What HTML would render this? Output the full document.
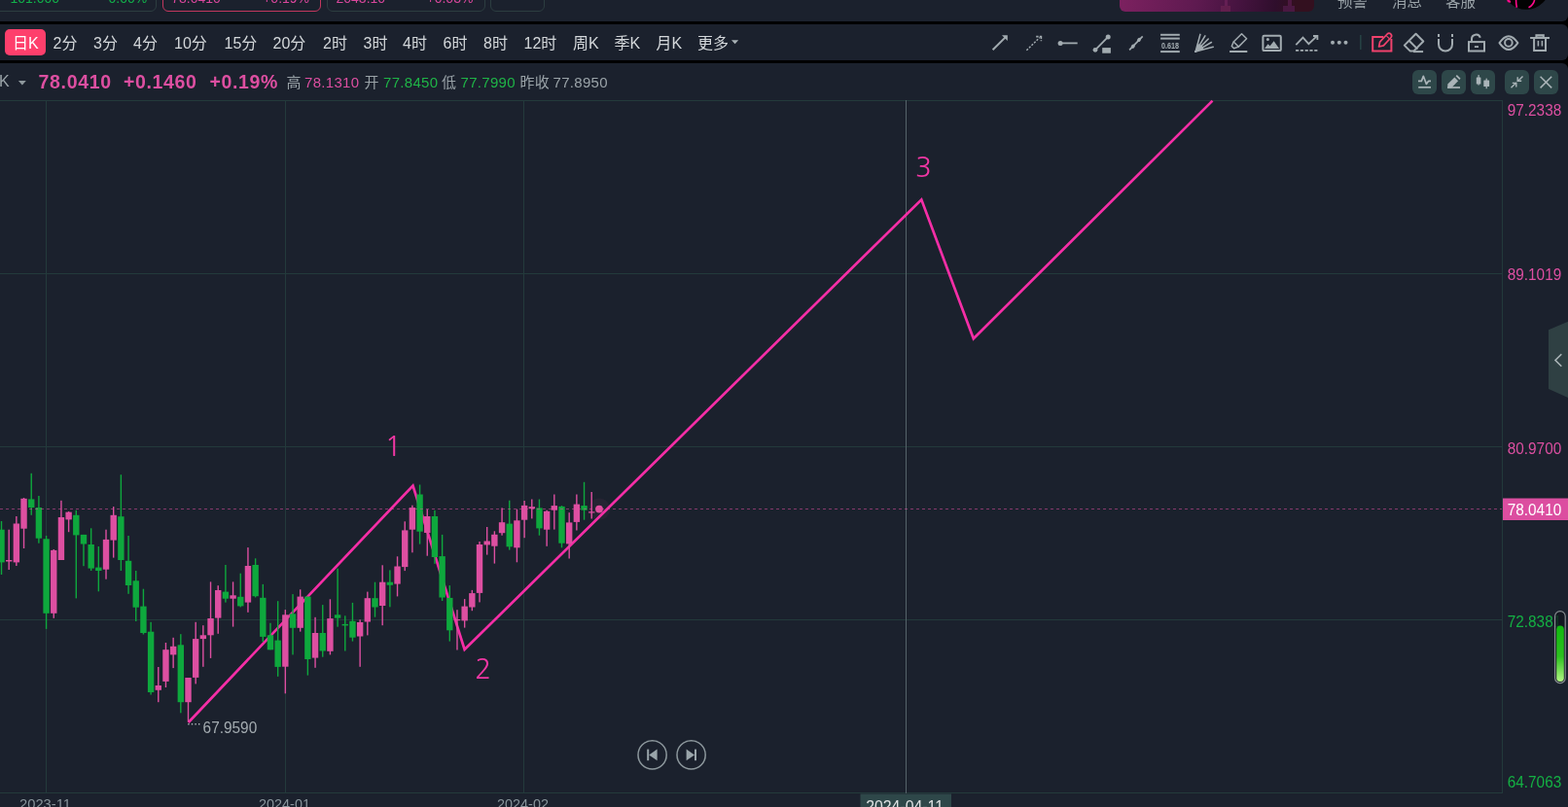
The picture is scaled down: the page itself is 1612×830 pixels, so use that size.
<!DOCTYPE html>
<html><head><meta charset="utf-8">
<style>
*{margin:0;padding:0;box-sizing:border-box}
html,body{width:1612px;height:830px;overflow:hidden;background:#000}
body{position:relative;font-family:"Liberation Sans","Noto Sans CJK SC",sans-serif;color:#9ba3a8}
.abs{position:absolute}
#hdr{left:0;top:0;width:1612px;height:22px;background:#1b212d;overflow:hidden;border-radius:0 0 6px 0}
#tb{left:0;top:25px;width:1612px;height:37px;background:#1b212d;border-radius:0 6px 6px 0}
#info{left:0;top:65px;width:1612px;height:765px;background:#1b212d;border-radius:0 6px 0 0}
.card{position:absolute;top:-12px;height:24px;border:1px solid #2c3d40;border-radius:6px}
.card span{position:absolute;top:1.5px;font-size:14px;line-height:15px}
.hd{position:absolute;top:-7.5px;font-size:15.5px;color:#9aa3a8;line-height:17px;font-family:"Liberation Sans","Noto Sans CJK SC",sans-serif}
.per{position:absolute;top:35px;font-size:16px;color:#d3d7da;white-space:nowrap;line-height:20px}
.it{position:absolute;top:76px;font-size:15px;white-space:nowrap;line-height:18px;letter-spacing:0.3px}
.big{position:absolute;top:73px;font-size:19.5px;font-weight:bold;letter-spacing:0.65px;color:#dd4fa1;white-space:nowrap;line-height:22px}
svg{position:absolute;left:0;top:0}
svg text{font-family:"Liberation Sans",sans-serif}
svg text.nb{font-family:NanumGothic,"Liberation Sans",sans-serif}
</style></head>
<body>
<div id="hdr" class="abs">
  <div class="card" style="left:-8px;width:169px"><span style="left:17.5px;color:#12b04a">101.000</span><span style="left:118.5px;color:#12b04a">0.00%</span></div>
  <div class="card" style="left:167px;width:163px;border-color:#c2375e"><span style="left:8.2px;color:#d9479c">78.0410</span><span style="left:102.2px;color:#d9479c">+0.19%</span></div>
  <div class="card" style="left:336px;width:163px"><span style="left:8.5px;color:#d9479c">2043.10</span><span style="left:101.5px;color:#d9479c">+0.03%</span></div>
  <div class="card" style="left:504px;width:56px"></div>
  <div class="abs" style="left:1151px;top:-12px;width:200px;height:24px;border-radius:6px;overflow:hidden;background:linear-gradient(100deg,#7d2160 0%,#5e1a50 40%,#45133f 62%,#2f0e2c 80%,#33101f 90%,#33101f 100%)">
    <div class="abs" style="left:107.5px;top:12px;width:3.7px;height:6px;background:#6a2058;opacity:.8"></div>
    <div class="abs" style="left:104px;top:18px;width:10px;height:6px;background:#66204f;opacity:.8"></div>
    <div class="abs" style="left:172.5px;top:12px;width:4px;height:6px;background:#501a44;opacity:.9"></div>
    <div class="abs" style="left:168px;top:18px;width:11.7px;height:6px;background:#4d1a45;opacity:.9"></div>
  </div>
  <div class="hd" style="left:1375px">预警</div>
  <div class="hd" style="left:1431px">消息</div>
  <div class="hd" style="left:1486px">客服</div>
  <svg width="1612" height="22" style="left:0;top:0">
    <circle cx="1569" cy="-14.8" r="24.6" fill="#030303"/>
    <path d="M1550,0 Q1551,2 1553,1.5" stroke="#ff0a8c" stroke-width="2.2" fill="none"/>
    <path d="M1558.6,0 Q1558.5,4 1559.4,7.8" stroke="#ff0a8c" stroke-width="1.6" fill="none"/>
    <path d="M1577.6,0 Q1576.5,5 1571.5,7.8" stroke="#ff0a8c" stroke-width="1.6" fill="none"/>
  </svg>
</div>
<div id="tb" class="abs"></div>
<div id="info" class="abs"></div>
<div class="abs" style="left:5px;top:30px;width:42px;height:27px;border-radius:5px;background:#fe3f6c"></div>
<div class="per" style="left:13px;color:#ffffff">日K</div>
<div class="per" style="left:54.5px">2分</div>
<div class="per" style="left:96px">3分</div>
<div class="per" style="left:137px">4分</div>
<div class="per" style="left:179px">10分</div>
<div class="per" style="left:230.5px">15分</div>
<div class="per" style="left:280.5px">20分</div>
<div class="per" style="left:332px">2时</div>
<div class="per" style="left:373.5px">3时</div>
<div class="per" style="left:414px">4时</div>
<div class="per" style="left:455.5px">6时</div>
<div class="per" style="left:497px">8时</div>
<div class="per" style="left:538.5px">12时</div>
<div class="per" style="left:589px">周K</div>
<div class="per" style="left:631.5px">季K</div>
<div class="per" style="left:674.5px">月K</div>
<div class="per" style="left:717px">更多</div>
<div class="it" style="left:-1px;top:75px;font-size:16px;color:#9aa3a8">K</div>
<div class="big" style="left:39.6px">78.0410</div>
<div class="big" style="left:127px">+0.1460</div>
<div class="big" style="left:215.5px">+0.19%</div>
<div class="it" style="left:294.5px;color:#9aa3a8">高</div>
<div class="it" style="left:313px;color:#dd4fa1">78.1310</div>
<div class="it" style="left:374.5px;color:#9aa3a8">开</div>
<div class="it" style="left:394px;color:#1fb447">77.8450</div>
<div class="it" style="left:454px;color:#9aa3a8">低</div>
<div class="it" style="left:473.5px;color:#1fb447">77.7990</div>
<div class="it" style="left:534.5px;color:#9aa3a8">昨收</div>
<div class="it" style="left:568.5px;color:#9aa3a8">77.8950</div>
<svg width="1612" height="830" viewBox="0 0 1612 830">
 <polygon points="752,41.2 759.2,41.2 755.6,45.3" fill="#a9b2b6"/>
 <polygon points="18.9,82.9 26.8,82.9 22.85,87.5" fill="#8e989d"/>

<g fill="none" stroke="#a2abb0" stroke-width="2" stroke-linecap="butt">
 <!-- arrow -->
 <line x1="1020.6" y1="51.2" x2="1034.6" y2="37.4"/>
 <polygon points="1030,36.3 1035.8,36.3 1035.8,42" fill="#a2abb0" stroke="none"/>
 <!-- dashed arrow -->
 <line x1="1055.4" y1="51.8" x2="1068.8" y2="38.6" stroke-dasharray="2.1,1.5" stroke-width="1.5"/>
 <path d="M1065.2,37.6 H1071.2 M1070.4,37.6 V42.2" stroke-width="1.6" stroke-dasharray="2.4,1.2"/>
 <!-- horizontal ray -->
 <circle cx="1090.1" cy="44.4" r="2.5" fill="#a2abb0" stroke="none"/>
 <line x1="1090" y1="44.4" x2="1107.7" y2="44.4" stroke-width="1.8"/>
 <!-- segment + box -->
 <line x1="1126" y1="51.3" x2="1139.2" y2="37.9" stroke-width="1.8"/>
 <circle cx="1126" cy="51.3" r="2.4" fill="#a2abb0" stroke="none"/>
 <circle cx="1139.2" cy="37.9" r="2.5" fill="#a2abb0" stroke="none"/>
 <rect x="1133.2" y="49.1" width="8.7" height="5.6" fill="#a2abb0" stroke="none"/>
 <!-- parallel knobs -->
 <line x1="1161.1" y1="51.4" x2="1174.7" y2="37.4" stroke-width="1.7"/>
 <ellipse cx="1164.8" cy="47.7" rx="2.2" ry="1.8" transform="rotate(-45 1164.8 47.7)" fill="#a2abb0" stroke="none"/>
 <ellipse cx="1171" cy="40.9" rx="2.2" ry="1.8" transform="rotate(-45 1171 40.9)" fill="#a2abb0" stroke="none"/>
 <!-- fib -->
 <line x1="1193.1" y1="35.8" x2="1212.8" y2="35.8"/>
 <line x1="1193.1" y1="39.6" x2="1212.8" y2="39.6"/>
 <line x1="1193.1" y1="53.1" x2="1212.8" y2="53.1"/>
 <text x="1193.9" y="49.9" font-size="9.8" font-weight="bold" fill="#a2abb0" stroke="none" textLength="18.1" lengthAdjust="spacingAndGlyphs">0.618</text>
 <!-- fan -->
 <g stroke-width="1.6" stroke-linecap="round">
  <line x1="1229.1" y1="53.1" x2="1233.9" y2="35.4"/>
  <line x1="1229.1" y1="53.1" x2="1238.9" y2="36.9"/>
  <line x1="1229.1" y1="53.1" x2="1242.2" y2="40"/>
  <line x1="1229.1" y1="53.1" x2="1245.4" y2="43.5"/>
  <line x1="1229.1" y1="53.1" x2="1247.2" y2="48.2"/>
 </g>
 <polygon points="1229.1,53.4 1231.6,45 1236,47 1237.5,50.5" fill="#a2abb0" stroke="none"/>
 <!-- highlighter -->
 <path d="M1268.2,43 L1276.5,34.7 L1281.6,39.8 L1273.3,48.1 Z" stroke-width="1.5" stroke-linejoin="round"/>
 <path d="M1268.2,43 L1266.3,47.5 L1268.6,49.8 L1273.3,48.1" stroke-width="1.5" stroke-linejoin="round"/>
 <line x1="1264.1" y1="53" x2="1282.3" y2="53" stroke-width="2"/>
 <!-- image -->
 <rect x="1298.4" y="36.8" width="18.4" height="15.3" rx="1.2"/>
 <circle cx="1303.4" cy="40.5" r="1.5" fill="#a2abb0" stroke="none"/>
 <polygon points="1300,49.9 1303.5,45.2 1305.6,47.2 1309.6,42.2 1315.1,49.9" fill="#a2abb0" stroke="none"/>
 <!-- trend -->
 <polyline points="1332.3,46.2 1339.5,38.6 1345.4,45.2 1353.6,37.3" stroke-width="1.8"/>
 <path d="M1350,37 H1354.4 V41" stroke-width="1.8"/>
 <line x1="1332" y1="51.9" x2="1354.7" y2="51.9" stroke-dasharray="3.2,1.6" stroke-width="1.8"/>
 <!-- more dots -->
 <circle cx="1370" cy="43.8" r="2" fill="#a2abb0" stroke="none"/>
 <circle cx="1376.8" cy="43.8" r="2" fill="#a2abb0" stroke="none"/>
 <circle cx="1383.5" cy="43.8" r="2" fill="#a2abb0" stroke="none"/>
</g>
<line x1="1398.8" y1="36" x2="1398.8" y2="51" stroke="#274445" stroke-width="1.5"/>
<g fill="none" stroke="#f0426d" stroke-width="2">
 <path d="M1422.3,38.1 H1411.2 V52.4 H1430.4 V40"/>
 <path d="M1417.6,48 L1418.6,43.2 L1426.2,35 Q1428,33.4 1429.9,35.1 Q1431.5,36.9 1429.9,38.7 L1422.4,46.9 Z" stroke-width="1.7" stroke-linejoin="round"/>
 <line x1="1425.4" y1="36.8" x2="1428.2" y2="39.6" stroke-width="1.2"/>
</g>
<g fill="none" stroke="#a2abb0" stroke-width="2" stroke-linejoin="round">
 <!-- eraser -->
 <path d="M1443.8,46.6 L1455.6,34.8 L1463.3,42.5 L1453.5,52.4 L1449.6,52.4 Z"/>
 <line x1="1448.6" y1="41.8" x2="1457.4" y2="50.6"/>
 <line x1="1453" y1="53.1" x2="1463.1" y2="53.1" stroke-linejoin="miter"/>
 <!-- magnet -->
 <path d="M1479,35 V37.9 M1493,35 V37.9"/>
 <path d="M1479,39.9 V45.6 A7,7 0 0 0 1493,45.6 V39.9"/>
 <!-- lock -->
 <rect x="1510" y="43.1" width="16" height="9.4" stroke-linejoin="miter"/>
 <rect x="1515.9" y="47.2" width="4.1" height="1.8" fill="#a2abb0" stroke="none"/>
 <path d="M1513,42.6 V40.3 A4.5,4.5 0 0 1 1521.8,38.8"/>
 <!-- eye -->
 <path d="M1541.5,44.1 Q1551,30.2 1560.4,44.1 Q1551,58 1541.5,44.1 Z"/>
 <circle cx="1550.9" cy="43.9" r="3.8"/>
 <!-- trash -->
 <line x1="1573.1" y1="39" x2="1593" y2="39" stroke-linejoin="miter"/>
 <rect x="1579.4" y="36.2" width="7.4" height="2.4" stroke-linejoin="miter"/>
 <path d="M1577.1,39.5 V52 H1589 V39.5" stroke-linejoin="miter"/>
 <line x1="1581.4" y1="41.9" x2="1581.4" y2="47.5" stroke-width="1.6"/>
 <line x1="1585.4" y1="41.9" x2="1585.4" y2="47.5" stroke-width="1.6"/>
</g>


<g>
 <rect x="1452" y="72" width="25" height="25" rx="6" fill="#2e4749"/>
 <rect x="1482" y="72" width="25" height="25" rx="6" fill="#2e4749"/>
 <rect x="1512" y="72" width="25" height="25" rx="6" fill="#2e4749"/>
 <rect x="1547" y="72" width="25" height="25" rx="6" fill="#2e4749"/>
 <rect x="1577" y="72" width="25" height="25" rx="6" fill="#2e4749"/>
 <g fill="none" stroke="#aab4b8" stroke-width="1.5">
  <polyline points="1458,83.4 1461.4,83.4 1463.3,78.3 1466.4,86.4 1468.5,83.4 1471,83.4" stroke-width="1.7" stroke-linejoin="round"/>
  <line x1="1458.2" y1="89.8" x2="1471" y2="89.8" stroke-width="1.7"/>
  <line x1="1488" y1="90" x2="1501" y2="90" stroke-width="1.7"/>
 </g>
 <path d="M1488.2,90.4 L1488.3,86.6 L1495.4,79.5 L1499.1,83.2 L1492,90.4 Z" fill="#aab4b8"/>
 <path d="M1496.6,78.3 L1497.9,77 L1501.6,80.7 L1500.3,82 Z" fill="#aab4b8"/>
 <g fill="#aab4b8">
  <rect x="1517.8" y="79.6" width="4.6" height="7" rx="0.4"/>
  <rect x="1519.5" y="77" width="1.2" height="10.6"/>
  <rect x="1525.3" y="82.6" width="5.8" height="6.5" rx="0.4"/>
  <rect x="1527.6" y="80.6" width="1.2" height="10.6"/>
 </g>
 <g fill="none" stroke="#aab4b8" stroke-width="1.4">
  <line x1="1553.5" y1="90.2" x2="1558.8" y2="84.9"/>
  <path d="M1554.8,85.4 H1558.8 V89.4" />
  <line x1="1565.5" y1="78.4" x2="1560.2" y2="83.7"/>
  <path d="M1564.2,83.2 H1560.2 V79.2" />
  <line x1="1583.6" y1="78.8" x2="1595.2" y2="90.4" stroke-width="1.5"/>
  <line x1="1595.2" y1="78.8" x2="1583.6" y2="90.4" stroke-width="1.5"/>
 </g>
</g>


<!-- grid -->
<g fill="#233a3b">
 <rect x="0" y="103" width="1545" height="1"/>
 <rect x="0" y="281" width="1545" height="1"/>
 <rect x="0" y="459" width="1545" height="1"/>
 <rect x="0" y="637" width="1545" height="1"/>
 <rect x="0" y="815" width="1545" height="1"/>
 <rect x="47" y="103" width="1" height="712"/>
 <rect x="293" y="103" width="1" height="712"/>
 <rect x="538" y="103" width="1" height="712"/>
 <rect x="1544" y="103" width="1" height="713"/>
</g>
<!-- crosshair -->
<rect x="931" y="103" width="1" height="713" fill="#56636a"/>
<!-- zigzag -->
<polyline points="193.7,743 424.5,499.5 477.6,668 947.3,205.3 1000.8,348.3 1246.5,103.6" fill="none" stroke="#f52ea6" stroke-width="2.7" stroke-linejoin="miter"/>
<!-- candles -->
<rect x="0.8" y="536" width="1.4" height="55" fill="#0ea83d"/>
<rect x="-1.7" y="544.7" width="6.4" height="33.7" fill="#0ea83d"/>
<rect x="8.48" y="544.7" width="1.4" height="41.3" fill="#dd4fa1"/>
<rect x="5.98" y="576" width="6.4" height="1.5" fill="#dd4fa1"/>
<rect x="16.16" y="531" width="1.4" height="51" fill="#dd4fa1"/>
<rect x="13.66" y="538.5" width="6.4" height="39.9" fill="#dd4fa1"/>
<rect x="23.84" y="512" width="1.4" height="52" fill="#dd4fa1"/>
<rect x="21.34" y="512.8" width="6.4" height="30.9" fill="#dd4fa1"/>
<rect x="31.52" y="486.8" width="1.4" height="43" fill="#0ea83d"/>
<rect x="29.02" y="513.4" width="6.4" height="8.6" fill="#0ea83d"/>
<rect x="39.2" y="510" width="1.4" height="48.7" fill="#0ea83d"/>
<rect x="36.7" y="522" width="6.4" height="31.7" fill="#0ea83d"/>
<rect x="46.88" y="551" width="1.4" height="95.9" fill="#0ea83d"/>
<rect x="44.38" y="554.3" width="6.4" height="76.5" fill="#0ea83d"/>
<rect x="54.56" y="565" width="1.4" height="70.8" fill="#dd4fa1"/>
<rect x="52.06" y="565.9" width="6.4" height="64.9" fill="#dd4fa1"/>
<rect x="62.24" y="514.8" width="1.4" height="61.2" fill="#dd4fa1"/>
<rect x="59.74" y="532" width="6.4" height="44" fill="#dd4fa1"/>
<rect x="69.92" y="526" width="1.4" height="21.2" fill="#dd4fa1"/>
<rect x="67.42" y="526.7" width="6.4" height="7.7" fill="#dd4fa1"/>
<rect x="77.6" y="524.8" width="1.4" height="90.6" fill="#0ea83d"/>
<rect x="75.1" y="529.8" width="6.4" height="20.6" fill="#0ea83d"/>
<rect x="85.28" y="549.9" width="1.4" height="32.3" fill="#0ea83d"/>
<rect x="82.78" y="549.9" width="6.4" height="9.6" fill="#0ea83d"/>
<rect x="92.96" y="543.3" width="1.4" height="43.7" fill="#0ea83d"/>
<rect x="90.46" y="560" width="6.4" height="24.6" fill="#0ea83d"/>
<rect x="100.64" y="562" width="1.4" height="46.3" fill="#0ea83d"/>
<rect x="98.14" y="583.6" width="6.4" height="3.4" fill="#0ea83d"/>
<rect x="108.32" y="544.7" width="1.4" height="51" fill="#dd4fa1"/>
<rect x="105.82" y="554.9" width="6.4" height="30.8" fill="#dd4fa1"/>
<rect x="116" y="521.1" width="1.4" height="52.5" fill="#dd4fa1"/>
<rect x="113.5" y="529.8" width="6.4" height="25.8" fill="#dd4fa1"/>
<rect x="123.68" y="488.2" width="1.4" height="98.8" fill="#0ea83d"/>
<rect x="121.18" y="531.2" width="6.4" height="44.8" fill="#0ea83d"/>
<rect x="131.36" y="551" width="1.4" height="59.8" fill="#0ea83d"/>
<rect x="128.86" y="576.8" width="6.4" height="25.2" fill="#0ea83d"/>
<rect x="139.04" y="587" width="1.4" height="52" fill="#0ea83d"/>
<rect x="136.54" y="597.3" width="6.4" height="27.4" fill="#0ea83d"/>
<rect x="146.72" y="605.7" width="1.4" height="46.8" fill="#0ea83d"/>
<rect x="144.22" y="623.6" width="6.4" height="27.4" fill="#0ea83d"/>
<rect x="154.4" y="639.8" width="1.4" height="74.7" fill="#0ea83d"/>
<rect x="151.9" y="649.7" width="6.4" height="62.3" fill="#0ea83d"/>
<rect x="162.08" y="686" width="1.4" height="36.2" fill="#dd4fa1"/>
<rect x="159.58" y="705" width="6.4" height="4.8" fill="#dd4fa1"/>
<rect x="169.76" y="661" width="1.4" height="46" fill="#dd4fa1"/>
<rect x="167.26" y="668.2" width="6.4" height="32.7" fill="#dd4fa1"/>
<rect x="177.44" y="655.8" width="1.4" height="31.3" fill="#dd4fa1"/>
<rect x="174.94" y="664.8" width="6.4" height="8.6" fill="#dd4fa1"/>
<rect x="185.12" y="652.2" width="1.4" height="81.1" fill="#0ea83d"/>
<rect x="182.62" y="663.3" width="6.4" height="58.9" fill="#0ea83d"/>
<rect x="192.8" y="697" width="1.4" height="45.7" fill="#dd4fa1"/>
<rect x="190.3" y="697" width="6.4" height="25.2" fill="#dd4fa1"/>
<rect x="200.48" y="639.8" width="1.4" height="63.6" fill="#dd4fa1"/>
<rect x="197.98" y="657.1" width="6.4" height="39.8" fill="#dd4fa1"/>
<rect x="208.16" y="643.2" width="1.4" height="42.6" fill="#dd4fa1"/>
<rect x="205.66" y="653.3" width="6.4" height="3.8" fill="#dd4fa1"/>
<rect x="215.84" y="598.4" width="1.4" height="78.5" fill="#dd4fa1"/>
<rect x="213.34" y="636" width="6.4" height="17.3" fill="#dd4fa1"/>
<rect x="223.52" y="602.2" width="1.4" height="49.6" fill="#dd4fa1"/>
<rect x="221.02" y="607" width="6.4" height="28.6" fill="#dd4fa1"/>
<rect x="231.2" y="581" width="1.4" height="38.6" fill="#0ea83d"/>
<rect x="228.7" y="608.6" width="6.4" height="7.1" fill="#0ea83d"/>
<rect x="238.88" y="598.4" width="1.4" height="46.2" fill="#dd4fa1"/>
<rect x="236.38" y="612.3" width="6.4" height="3.4" fill="#dd4fa1"/>
<rect x="246.56" y="589.7" width="1.4" height="34.7" fill="#0ea83d"/>
<rect x="244.06" y="613.8" width="6.4" height="9.6" fill="#0ea83d"/>
<rect x="254.24" y="563.1" width="1.4" height="66.7" fill="#dd4fa1"/>
<rect x="251.74" y="582" width="6.4" height="37.6" fill="#dd4fa1"/>
<rect x="261.92" y="574.3" width="1.4" height="40.1" fill="#0ea83d"/>
<rect x="259.42" y="581" width="6.4" height="32.2" fill="#0ea83d"/>
<rect x="269.6" y="600.9" width="1.4" height="59.2" fill="#0ea83d"/>
<rect x="267.1" y="614.8" width="6.4" height="40.1" fill="#0ea83d"/>
<rect x="277.28" y="640.8" width="1.4" height="27.5" fill="#0ea83d"/>
<rect x="274.78" y="653.3" width="6.4" height="15" fill="#0ea83d"/>
<rect x="284.96" y="618.2" width="1.4" height="77.6" fill="#0ea83d"/>
<rect x="282.46" y="658.6" width="6.4" height="27.3" fill="#0ea83d"/>
<rect x="292.64" y="627.1" width="1.4" height="86.2" fill="#dd4fa1"/>
<rect x="290.14" y="632.3" width="6.4" height="53.4" fill="#dd4fa1"/>
<rect x="300.32" y="611.1" width="1.4" height="62.3" fill="#0ea83d"/>
<rect x="297.82" y="631.3" width="6.4" height="14.5" fill="#0ea83d"/>
<rect x="308" y="606.3" width="1.4" height="43.3" fill="#dd4fa1"/>
<rect x="305.5" y="613.6" width="6.4" height="32.2" fill="#dd4fa1"/>
<rect x="315.68" y="613.6" width="1.4" height="81" fill="#0ea83d"/>
<rect x="313.18" y="613.6" width="6.4" height="64.4" fill="#0ea83d"/>
<rect x="323.36" y="634.8" width="1.4" height="52" fill="#dd4fa1"/>
<rect x="320.86" y="651" width="6.4" height="25.6" fill="#dd4fa1"/>
<rect x="331.04" y="622.1" width="1.4" height="53.6" fill="#0ea83d"/>
<rect x="328.54" y="651" width="6.4" height="18.5" fill="#0ea83d"/>
<rect x="338.72" y="616.3" width="1.4" height="57.1" fill="#dd4fa1"/>
<rect x="336.22" y="636.1" width="6.4" height="33.7" fill="#dd4fa1"/>
<rect x="346.4" y="584.7" width="1.4" height="60" fill="#0ea83d"/>
<rect x="343.9" y="632.3" width="6.4" height="3.4" fill="#0ea83d"/>
<rect x="354.08" y="633.3" width="1.4" height="36.2" fill="#0ea83d"/>
<rect x="351.58" y="641.9" width="6.4" height="1.5" fill="#0ea83d"/>
<rect x="361.76" y="619.9" width="1.4" height="39.7" fill="#0ea83d"/>
<rect x="359.26" y="638.8" width="6.4" height="16.9" fill="#0ea83d"/>
<rect x="369.44" y="637.3" width="1.4" height="48.5" fill="#dd4fa1"/>
<rect x="366.94" y="640" width="6.4" height="14.5" fill="#dd4fa1"/>
<rect x="377.12" y="608.6" width="1.4" height="44.8" fill="#dd4fa1"/>
<rect x="374.62" y="615.2" width="6.4" height="24.3" fill="#dd4fa1"/>
<rect x="384.8" y="598.7" width="1.4" height="36" fill="#0ea83d"/>
<rect x="382.3" y="615.2" width="6.4" height="9.3" fill="#0ea83d"/>
<rect x="392.48" y="581.3" width="1.4" height="61.9" fill="#dd4fa1"/>
<rect x="389.98" y="598.7" width="6.4" height="24.3" fill="#dd4fa1"/>
<rect x="400.16" y="586.4" width="1.4" height="37.9" fill="#0ea83d"/>
<rect x="397.66" y="598.7" width="6.4" height="3.1" fill="#0ea83d"/>
<rect x="407.84" y="572.3" width="1.4" height="41.1" fill="#dd4fa1"/>
<rect x="405.34" y="582.5" width="6.4" height="18.1" fill="#dd4fa1"/>
<rect x="415.52" y="536.3" width="1.4" height="50.8" fill="#dd4fa1"/>
<rect x="413.02" y="545.4" width="6.4" height="37.7" fill="#dd4fa1"/>
<rect x="423.2" y="519.7" width="1.4" height="48.6" fill="#dd4fa1"/>
<rect x="420.7" y="522.1" width="6.4" height="22.6" fill="#dd4fa1"/>
<rect x="430.88" y="498.5" width="1.4" height="61.1" fill="#0ea83d"/>
<rect x="428.38" y="508.5" width="6.4" height="38.2" fill="#0ea83d"/>
<rect x="438.56" y="523.9" width="1.4" height="47.8" fill="#dd4fa1"/>
<rect x="436.06" y="531" width="6.4" height="17" fill="#dd4fa1"/>
<rect x="446.24" y="524.9" width="1.4" height="54.9" fill="#0ea83d"/>
<rect x="443.74" y="531" width="6.4" height="42" fill="#0ea83d"/>
<rect x="453.92" y="549.9" width="1.4" height="68.1" fill="#0ea83d"/>
<rect x="451.42" y="572.1" width="6.4" height="42.4" fill="#0ea83d"/>
<rect x="461.6" y="602.1" width="1.4" height="57.5" fill="#0ea83d"/>
<rect x="459.1" y="614.9" width="6.4" height="33.4" fill="#0ea83d"/>
<rect x="469.28" y="627.2" width="1.4" height="41.3" fill="#dd4fa1"/>
<rect x="466.78" y="637" width="6.4" height="1.2" fill="#dd4fa1"/>
<rect x="476.96" y="616.1" width="1.4" height="29.5" fill="#dd4fa1"/>
<rect x="474.46" y="623.6" width="6.4" height="14.8" fill="#dd4fa1"/>
<rect x="484.64" y="606.9" width="1.4" height="21.3" fill="#dd4fa1"/>
<rect x="482.14" y="610.1" width="6.4" height="14.4" fill="#dd4fa1"/>
<rect x="492.32" y="557" width="1.4" height="62.4" fill="#dd4fa1"/>
<rect x="489.82" y="560" width="6.4" height="49.9" fill="#dd4fa1"/>
<rect x="500" y="542" width="1.4" height="28.6" fill="#dd4fa1"/>
<rect x="497.5" y="556.5" width="6.4" height="3.9" fill="#dd4fa1"/>
<rect x="507.68" y="546.3" width="1.4" height="33.3" fill="#dd4fa1"/>
<rect x="505.18" y="549.8" width="6.4" height="11.9" fill="#dd4fa1"/>
<rect x="515.36" y="522.4" width="1.4" height="28.3" fill="#dd4fa1"/>
<rect x="512.86" y="537.2" width="6.4" height="11" fill="#dd4fa1"/>
<rect x="523.04" y="514.7" width="1.4" height="50.9" fill="#0ea83d"/>
<rect x="520.54" y="538.6" width="6.4" height="23.7" fill="#0ea83d"/>
<rect x="530.72" y="523.7" width="1.4" height="54.6" fill="#dd4fa1"/>
<rect x="528.22" y="535.3" width="6.4" height="28" fill="#dd4fa1"/>
<rect x="538.4" y="515" width="1.4" height="38.2" fill="#dd4fa1"/>
<rect x="535.9" y="519.9" width="6.4" height="14.8" fill="#dd4fa1"/>
<rect x="546.08" y="513.5" width="1.4" height="19.9" fill="#dd4fa1"/>
<rect x="543.58" y="521.2" width="6.4" height="2" fill="#dd4fa1"/>
<rect x="553.76" y="513.5" width="1.4" height="37.2" fill="#0ea83d"/>
<rect x="551.26" y="522.4" width="6.4" height="21" fill="#0ea83d"/>
<rect x="561.44" y="524.7" width="1.4" height="37.1" fill="#dd4fa1"/>
<rect x="558.94" y="525.8" width="6.4" height="18.9" fill="#dd4fa1"/>
<rect x="569.12" y="508.5" width="1.4" height="36.1" fill="#dd4fa1"/>
<rect x="566.62" y="520.1" width="6.4" height="4.6" fill="#dd4fa1"/>
<rect x="576.8" y="520.1" width="1.4" height="43.2" fill="#0ea83d"/>
<rect x="574.3" y="520.9" width="6.4" height="37.8" fill="#0ea83d"/>
<rect x="584.48" y="527.2" width="1.4" height="47.3" fill="#dd4fa1"/>
<rect x="581.98" y="537.4" width="6.4" height="22" fill="#dd4fa1"/>
<rect x="592.16" y="508.5" width="1.4" height="37" fill="#dd4fa1"/>
<rect x="589.66" y="518.6" width="6.4" height="18.3" fill="#dd4fa1"/>
<rect x="599.84" y="495.8" width="1.4" height="38.9" fill="#0ea83d"/>
<rect x="597.34" y="520.1" width="6.4" height="4.6" fill="#0ea83d"/>
<rect x="607.52" y="506" width="1.4" height="27.5" fill="#dd4fa1"/>
<rect x="605.02" y="526.3" width="6.4" height="1.2" fill="#dd4fa1"/>
<!-- current price dashed -->
<line x1="0" y1="523.5" x2="1544" y2="523.5" stroke="#dd4fa1" stroke-opacity="0.55" stroke-width="1" stroke-dasharray="3,3" stroke-dashoffset="0"/>
<!-- current dot -->
<circle cx="616" cy="523.6" r="11" fill="#e04fa0" opacity="0.06"/>
<circle cx="616" cy="523.6" r="3.9" fill="#e04fa0"/>
<!-- low marker -->
<line x1="193.2" y1="744.8" x2="206.5" y2="744.8" stroke="#a8b0b5" stroke-width="1.4" stroke-dasharray="1.4,2.2"/>
<text x="208.6" y="754" font-size="16" fill="#a3abb0" textLength="55.6" lengthAdjust="spacingAndGlyphs">67.9590</text>
<g style="font-family:NanumGothic,'Liberation Sans',sans-serif">
<text class="nb" x="395.5" y="468.9" font-size="29" fill="#f037a4">1</text>
<text class="nb" x="488.3" y="697.6" font-size="28" fill="#f037a4">2</text>
<text class="nb" x="941" y="182.4" font-size="27.8" fill="#f037a4">3</text>
</g>
<!-- playback -->
<g fill="none" stroke="#8d989d" stroke-width="1.5">
 <circle cx="670.6" cy="776.4" r="14.6"/>
 <circle cx="710.6" cy="776.4" r="14.6"/>
</g>
<g fill="#9aa5aa">
 <rect x="665.2" y="770.6" width="2" height="11.6"/>
 <polygon points="667.2,776.4 675.6,770.6 675.6,782.2"/>
 <rect x="714" y="770.6" width="2" height="11.6"/>
 <polygon points="714,776.4 705.6,770.6 705.6,782.2"/>
</g>
<!-- price axis labels -->
<g font-size="16" lengthAdjust="spacingAndGlyphs">
 <text x="1549.8" y="118.8" fill="#dd4fa1" textLength="55.4" lengthAdjust="spacingAndGlyphs">97.2338</text>
 <text x="1549.8" y="288" fill="#dd4fa1" textLength="55.4" lengthAdjust="spacingAndGlyphs">89.1019</text>
 <text x="1549.8" y="467" fill="#dd4fa1" textLength="55.4" lengthAdjust="spacingAndGlyphs">80.9700</text>
 <text x="1549.8" y="645" fill="#14b043" textLength="55.4" lengthAdjust="spacingAndGlyphs">72.8381</text>
 <text x="1549.8" y="810" fill="#14b043" textLength="55.4" lengthAdjust="spacingAndGlyphs">64.7063</text>
</g>
<rect x="1545" y="512.5" width="67" height="22.5" fill="#dc4ea0"/>
<text x="1549.8" y="530.2" font-size="16" fill="#ffffff" textLength="55.4" lengthAdjust="spacingAndGlyphs">78.0410</text>
<!-- crosshair date -->
<rect x="884.5" y="816.5" width="93.5" height="14" fill="#2e4749"/>
<text x="890.2" y="834.6" font-size="16" fill="#dde1e2" textLength="79.8" lengthAdjust="spacingAndGlyphs">2024-04-11</text>
<!-- time axis -->
<g font-size="14.5" fill="#87939a">
 <text x="20" y="832.3" textLength="53" lengthAdjust="spacingAndGlyphs">2023-11</text>
 <text x="266" y="832.3" textLength="53" lengthAdjust="spacingAndGlyphs">2024-01</text>
 <text x="511" y="832.3" textLength="53" lengthAdjust="spacingAndGlyphs">2024-02</text>
</g>
<!-- side tab -->
<polygon points="1592,339.3 1612,330.8 1612,409 1592,400" fill="#2f4043"/>
<polyline points="1605.3,364.3 1599,370.5 1605.3,376.7" fill="none" stroke="#aab3b7" stroke-width="1.6"/>
<!-- scroll capsule -->
<rect x="1598.6" y="628.6" width="10.6" height="74" rx="5.3" fill="#12161e" fill-opacity="0.8" stroke="#878c90" stroke-width="1.2"/>
<defs><linearGradient id="gg" x1="0" y1="0" x2="0" y2="1">
 <stop offset="0" stop-color="#10b90f"/><stop offset="0.55" stop-color="#2cc01f"/><stop offset="1" stop-color="#b3f783"/></linearGradient></defs>
<rect x="1600.2" y="643.5" width="7.6" height="57.6" rx="3.8" fill="url(#gg)"/>

</svg>
</body></html>
